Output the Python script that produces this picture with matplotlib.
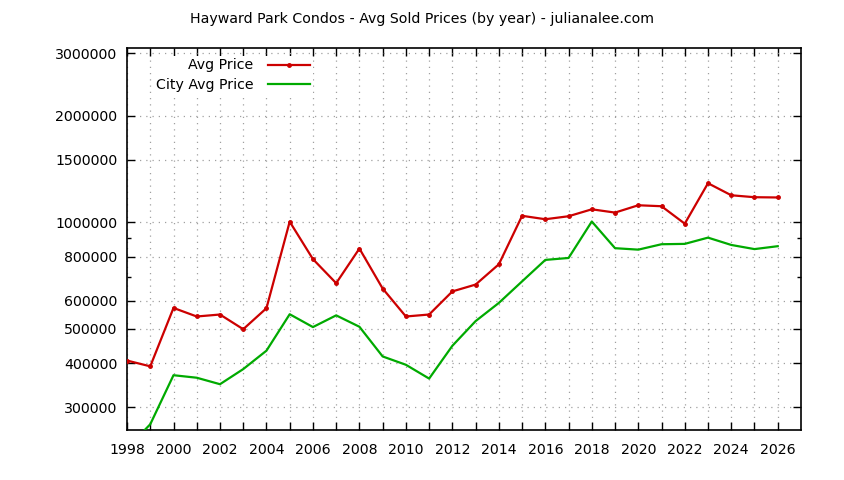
import numpy as np
import matplotlib.pyplot as plt
from matplotlib.ticker import FixedLocator, NullFormatter

years = list(range(1998, 2027))

avg_price = [407000, 392000, 573000, 542000, 549000, 499000, 572000, 1004000,
             787000, 673000, 843000, 650000, 542000, 549000, 638000, 667000,
             761000, 1043000, 1020000, 1040000, 1088000, 1065000, 1117000,
             1110000, 991000, 1289000, 1192000, 1177000, 1175000]

city_avg_price = [230000, 269000, 370000, 364000, 349000, 385000, 434000, 550000,
                  506000, 546000, 507000, 418000, 396000, 362000, 448000, 526000,
                  592000, 681000, 783000, 793000, 1005000, 845000, 837000,
                  867000, 869000, 905000, 863000, 840000, 856000]

y_ticks = [300000, 400000, 500000, 600000, 800000, 1000000, 1500000, 2000000, 3000000]
y_minor = [700000, 900000]
x_labels = [str(y) if y % 2 == 0 else "" for y in years]

plt.rcParams['font.family'] = ['DejaVu Sans']

fig = plt.figure(figsize=(8.44, 4.80), dpi=100)
ax = fig.add_axes([0.1505, 0.104, 0.7985, 0.796])

ax.plot(years, avg_price, color="#cc0000", lw=1.6, marker="o", ms=2.5,
        label="Avg Price", zorder=3)
ax.plot(years, city_avg_price, color="#00aa00", lw=1.6, label="City Avg Price", zorder=3)

ax.set_yscale("log")
ax.set_ylim(259000, 3105000)
ax.set_xlim(1998, 2027)

ax.yaxis.set_major_locator(FixedLocator(y_ticks))
ax.yaxis.set_minor_locator(FixedLocator(y_minor))
ax.yaxis.set_minor_formatter(NullFormatter())
ax.set_yticklabels([str(v) for v in y_ticks])
ax.set_xticks(years)
ax.set_xticklabels(x_labels)

ax.tick_params(which="major", direction="in", length=5.8, width=1, top=True, right=True,
               labelsize=10.2, colors="black")
ax.tick_params(which="minor", direction="in", length=3, width=1, top=True, right=True)
ax.tick_params(axis="x", pad=9)
ax.tick_params(axis="y", pad=7)

ax.grid(True, which="major", color="#a0a0a0", linestyle=(0, (1, 4)), linewidth=0.9, zorder=0)
for s in ax.spines.values():
    s.set_linewidth(1.2)

fig.text(0.5, 0.96, "Hayward Park Condos - Avg Sold Prices (by year) - julianalee.com",
         fontsize=10.2, ha="center", va="center")

leg = ax.legend(loc="upper right", bbox_to_anchor=(0.276, 0.98), markerfirst=False,
                frameon=True, fontsize=10.2, handlelength=3.0, handletextpad=1.0,
                labelspacing=0.4, borderaxespad=0.0, borderpad=0.2)
leg.get_frame().set_edgecolor("none")
leg.get_frame().set_facecolor("white")
leg.get_frame().set_alpha(1)

fig.savefig("out.png", dpi=100)
